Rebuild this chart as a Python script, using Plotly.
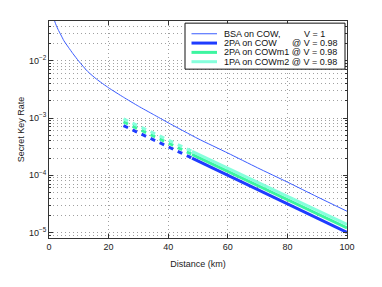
import plotly.graph_objects as go

# ---- data ----
distance_bsa = [1, 2, 3, 4, 5, 6.5, 8, 10, 13, 16, 20, 25, 30, 35, 40, 50, 60, 70, 80, 90, 100]
rate_bsa = [0.089, 0.0479, 0.0359, 0.0285, 0.0226, 0.0174, 0.0135, 0.00989, 0.00653, 0.00479,
            0.00339, 0.00232, 0.00162, 0.00116, 8.3e-4, 4.37e-4, 2.45e-4, 1.35e-4, 7.6e-5, 4.2e-5, 2.35e-5]

distance_dashed = [25, 48]
distance_solid = [48, 100]
rate_2pa_cow_dashed = [7.4e-4, 2.0e-4]
rate_2pa_cow_solid = [2.0e-4, 1.0e-5]
rate_2pa_cowm1_dashed = [8.6e-4, 2.33e-4]
rate_2pa_cowm1_solid = [2.33e-4, 1.2e-5]
rate_1pa_cowm2_dashed = [9.7e-4, 2.63e-4]
rate_1pa_cowm2_solid = [2.63e-4, 1.38e-5]

legend_left = ["BSA on COW,", "2PA on COW", "2PA on COWm1 @ V = 0.98", "1PA on COWm2 @ V = 0.98"]
legend_right = ["V = 1", "@ V = 0.98", "", ""]

x_ticks = [0, 20, 40, 60, 80, 100]
y_ticks = [1e-5, 1e-4, 1e-3, 1e-2]
y_ticktext = ["10<sup>\u22125</sup>", "10<sup>\u22124</sup>", "10<sup>\u22123</sup>", "10<sup>\u22122</sup>"]

# ---- styles ----
C_BSA = "#3a5cff"
C_COW = "#1f3cff"
C_M1 = "#3df5a0"
C_M2 = "#86ffdc"
FONT = "Liberation Sans, Arial, sans-serif"
GRID = "#a0a0a0"
GDASH = "1px,3px"

# page body has an 8px margin, so the figure is placed at (8, 8) in the window
OFF = 8
W, H = 366, 271
PL, PT, PW, PH = 49, 21, 298, 233        # plot area in window pixels
ML, MT = PL - OFF, PT - OFF
MR, MB = W - ML - PW, H - MT - PH

def px(x):
    return (x - PL) / PW

def py(y):
    return (PT + PH - y) / PH

fig = go.Figure()
fig.add_trace(go.Scatter(x=distance_bsa, y=rate_bsa, mode="lines",
                         line=dict(color=C_BSA, width=1, shape="spline", smoothing=0.5), showlegend=False))

series = [
    (rate_2pa_cow_dashed, rate_2pa_cow_solid, C_COW),
    (rate_2pa_cowm1_dashed, rate_2pa_cowm1_solid, C_M1),
    (rate_1pa_cowm2_dashed, rate_1pa_cowm2_solid, C_M2),
]
for dashed, solid, col in series:
    fig.add_trace(go.Scatter(x=distance_dashed, y=dashed, mode="lines",
                             line=dict(color=col, width=3, dash="5px,5px"), showlegend=False))
    fig.add_trace(go.Scatter(x=distance_solid, y=solid, mode="lines",
                             line=dict(color=col, width=3), showlegend=False))

minor_vals = [k * 10.0 ** e for e in range(-6, -1) for k in range(2, 10)]

fig.update_xaxes(range=[0, 100], tickvals=x_ticks, ticks="inside", ticklen=4, tickcolor="#333",
                 showline=True, linecolor="#333", linewidth=1, mirror="ticks",
                 showgrid=True, gridcolor=GRID, griddash=GDASH, gridwidth=1, zeroline=False,
                 tickfont=dict(family=FONT, size=9, color="#222"),
                 title=dict(text="Distance (km)", font=dict(family=FONT, size=9, color="#222"), standoff=9))
fig.update_yaxes(type="log", range=[-5.097, -1.301], tickvals=y_ticks, ticktext=y_ticktext,
                 ticks="inside", ticklen=4, tickcolor="#333",
                 showline=True, linecolor="#333", linewidth=1, mirror="ticks",
                 showgrid=True, gridcolor=GRID, griddash=GDASH, gridwidth=1, zeroline=False,
                 minor=dict(tickvals=minor_vals, ticks="inside", ticklen=2, tickcolor="#333",
                            showgrid=True, gridcolor=GRID, griddash=GDASH, gridwidth=1),
                 tickfont=dict(family=FONT, size=9, color="#222"),
                 title=dict(text="Secret Key Rate", font=dict(family=FONT, size=9, color="#222"), standoff=2))

# ---- manual legend (MATLAB style compact box) ----
shapes = [dict(type="rect", xref="paper", yref="paper", x0=px(185), x1=px(345), y0=py(72.7), y1=py(23.3),
               line=dict(color="#111", width=1), fillcolor="white", layer="above")]
annotations = []
row_y = [34.7, 44.7, 54.7, 64.7]
legend_styles = [(C_BSA, 1), (C_COW, 3), (C_M1, 3), (C_M2, 3)]
for i, (yy, (col, wd)) in enumerate(zip(row_y, legend_styles)):
    shapes.append(dict(type="line", xref="paper", yref="paper", x0=px(191.5), x1=px(217), y0=py(yy), y1=py(yy),
                       line=dict(color=col, width=wd), layer="above"))
    annotations.append(dict(xref="paper", yref="paper", x=px(221.5), y=py(yy), text=legend_left[i],
                            showarrow=False, xanchor="left", yanchor="middle",
                            font=dict(family=FONT, size=9, color="#111")))
    if legend_right[i]:
        rx = 301.5 if legend_right[i].startswith("V") else 290
        annotations.append(dict(xref="paper", yref="paper", x=px(rx), y=py(yy), text=legend_right[i],
                                showarrow=False, xanchor="left", yanchor="middle",
                                font=dict(family=FONT, size=9, color="#111")))

fig.update_layout(width=W, height=H, margin=dict(l=ML, r=MR, t=MT, b=MB),
                  paper_bgcolor="white", plot_bgcolor="white", showlegend=False,
                  shapes=shapes, annotations=annotations)

fig.write_html("out.html")
